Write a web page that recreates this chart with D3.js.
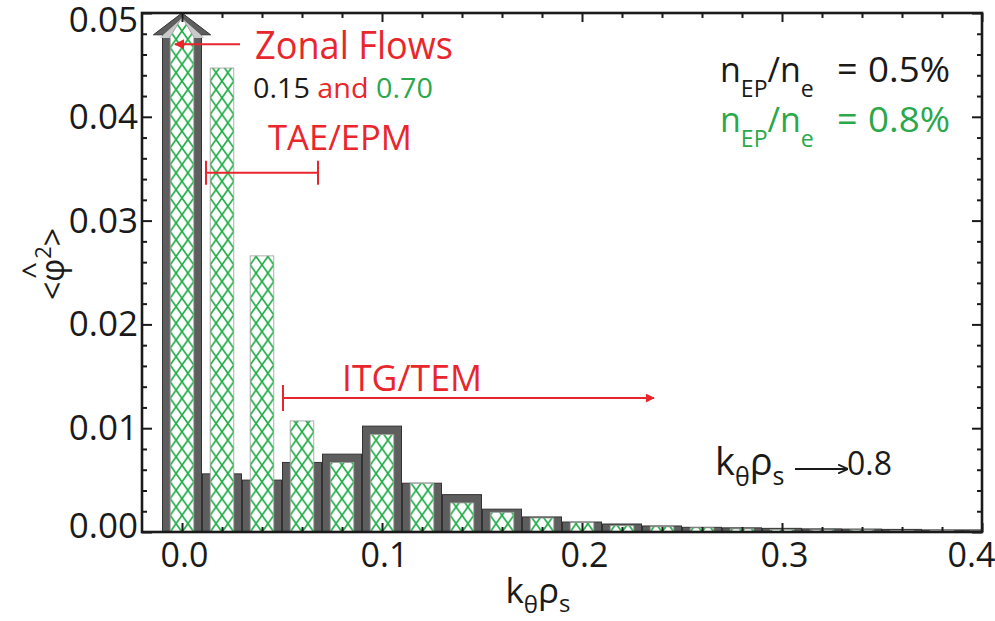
<!DOCTYPE html>
<html><head><meta charset="utf-8">
<script src="https://cdn.jsdelivr.net/npm/d3@7"></script>
<style>
body{margin:0;background:#fff}
svg{display:block}
text{font-family:"Open Sans",sans-serif}
</style>
</head><body>
<svg id="chart" width="995" height="621"></svg>
<script>
// ---- data ----
const kTheta = [0.00,0.02,0.04,0.06,0.08,0.10,0.12,0.14,0.16,0.18,0.20,0.22,0.24,0.26,0.28,0.30,0.32,0.34,0.36,0.38,0.40];
// n_EP/n_e = 0.5% ("0.15"), grey bars; null = off scale (zonal flow, drawn as arrow)
const phi2_015 = [null,0.0056,0.0050,0.0067,0.0075,0.0102,0.0047,0.0036,0.0022,0.00145,0.00096,0.00077,0.00058,0.00045,0.00040,0.00035,0.00030,0.00028,0.00025,0.00020,0.00020];
// n_EP/n_e = 0.8% ("0.70"), green hatched bars
const phi2_070 = [null,0.0447,0.0266,0.0107,0.0067,0.0094,0.0047,0.0028,0.0019,0.00135,0.0009,0.0006,0.0005,0.0004,0.0003,0.00025,0.0002,0.0002,0.00015,0.00015,0.0001];
const xTickValues = [0.0,0.1,0.2,0.3,0.4];
const xTickLabels = ["0.0","0.1","0.2","0.3","0.4"];
const yTickValues = [0.00,0.01,0.02,0.03,0.04,0.05];
const yTickLabels = ["0.00","0.01","0.02","0.03","0.04","0.05"];

// ---- layout ----
const W = 995, H = 621;
const m = {left:142, right:13, top:13, bottom:89};
const RED = "#e8262c", GREEN = "#2aa84a", HATCH = "#22ad48", DARK = "#1a1a1a";
const svg = d3.select("#chart");
const x = d3.scaleLinear().domain([-0.02, 0.40]).range([m.left, W - m.right]);
const y = d3.scaleLinear().domain([0, 0.05]).range([H - m.bottom, m.top]);
const dx = d => x(d) - x(0);
const greyW = 0.0195, greenW = 0.0118;

const defs = svg.append("defs");
defs.append("clipPath").attr("id","plotclip").append("rect")
  .attr("x", x(-0.02)).attr("y", 0).attr("width", x(0.40)-x(-0.02)).attr("height", y(0)+1);

const gBars = svg.append("g").attr("clip-path","url(#plotclip)");

// grey bars
kTheta.forEach((k,i)=>{
  const v = phi2_015[i];
  const xl = x(k - greyW/2), xr = x(k + greyW/2), xc = x(k);
  if (v === null) {
    const hw = dx(0.0143), yb = y(0.0479), yt = y(0.0500);
    const pts = [[xl,y(0)],[xl,yb],[xc-hw,yb],[xc,yt],[xc+hw,yb],[xr,yb],[xr,y(0)]];
    gBars.append("polygon").attr("points", pts.map(p=>p.join(",")).join(" "))
      .attr("fill","#5e5e5e").attr("stroke","#333").attr("stroke-width",1);
    const hw2 = dx(0.0112), yb2 = y(0.0476), yt2 = y(0.0495);
    const pts2 = [[xl+2.5,yb2],[xc-hw2,yb2],[xc,yt2],[xc+hw2,yb2],[xr-2.5,yb2]];
    gBars.append("polygon").attr("points", pts2.map(p=>p.join(",")).join(" "))
      .attr("fill","#c9c9c9").attr("stroke","none");
  } else {
    gBars.append("rect").attr("x", xl).attr("width", xr-xl)
      .attr("y", y(v)).attr("height", y(0)-y(v))
      .attr("fill","#5e5e5e").attr("stroke","#333").attr("stroke-width",1);
  }
});

// green hatched bars
kTheta.forEach((k,i)=>{
  const v = phi2_070[i];
  const xl = x(k - greenW/2), xr = x(k + greenW/2), xc = x(k);
  const bw = xr - xl;
  const pid = "hatch"+i;
  const pat = defs.append("pattern").attr("id",pid).attr("patternUnits","userSpaceOnUse")
    .attr("x", xl).attr("y", y(0)).attr("width", bw/2).attr("height", 16.7);
  pat.append("path").attr("d", `M0,0L${bw/2},16.7M${bw/2},0L0,16.7`)
    .attr("stroke", HATCH).attr("stroke-width",1.7).attr("fill","none");
  if (v === null) {
    const hw = dx(0.0112), yb = y(0.0476), yt = y(0.0496);
    const pts = [[xl,y(0)],[xl,yb],[xc-hw*0.55,yb],[xc,yt],[xc+hw*0.55,yb],[xr,yb],[xr,y(0)]];
    const s = pts.map(p=>p.join(",")).join(" ");
    gBars.append("polygon").attr("points", s).attr("fill","#fff");
    gBars.append("polygon").attr("points", s).attr("fill",`url(#${pid})`)
      .attr("stroke","#9a9a9a").attr("stroke-width",0.8);
  } else {
    gBars.append("rect").attr("x", xl).attr("width", bw).attr("y", y(v)).attr("height", y(0)-y(v))
      .attr("fill","#fff");
    gBars.append("rect").attr("x", xl).attr("width", bw).attr("y", y(v)).attr("height", y(0)-y(v))
      .attr("fill",`url(#${pid})`).attr("stroke","#9a9a9a").attr("stroke-width",0.8);
  }
});

// ---- axes (inward ticks on all sides) ----
const xMinor = d3.range(0, 0.4001, 0.02).filter(v => Math.abs(v*10 - Math.round(v*10)) > 1e-6);
const yMinor = d3.range(0, 0.05001, 0.002).filter(v => Math.abs(v*100 - Math.round(v*100)) > 1e-6);
function styleAxis(g){ g.select(".domain").remove(); g.selectAll("line").attr("stroke", DARK).attr("stroke-width", 2); }

svg.append("g").attr("transform",`translate(0,${y(0)})`)
  .call(d3.axisBottom(x).tickValues(xTickValues).tickSize(-9).tickPadding(11).tickFormat((d,i)=>xTickLabels[i]))
  .call(styleAxis)
  .call(g=>g.selectAll("text").attr("font-size",34).attr("fill",DARK).attr("font-family","Open Sans")
    .attr("x",(d,i)=> i===xTickValues.length-1 ? -11 : 2));
svg.append("g").attr("transform",`translate(0,${y(0)})`)
  .call(d3.axisBottom(x).tickValues(xMinor).tickSize(-5).tickFormat(""))
  .call(styleAxis);
svg.append("g").attr("transform",`translate(0,${y(0.05)})`)
  .call(d3.axisTop(x).tickValues(xTickValues).tickSize(-9).tickFormat(""))
  .call(styleAxis);
svg.append("g").attr("transform",`translate(0,${y(0.05)})`)
  .call(d3.axisTop(x).tickValues(xMinor).tickSize(-5).tickFormat(""))
  .call(styleAxis);

svg.append("g").attr("transform",`translate(${x(-0.02)},0)`)
  .call(d3.axisLeft(y).tickValues(yTickValues).tickSize(-10).tickPadding(4).tickFormat((d,i)=>yTickLabels[i]))
  .call(styleAxis)
  .call(g=>g.selectAll("text").attr("font-size",35).attr("fill",DARK).attr("font-family","Open Sans")
    .attr("dy",(d,i)=> i===0 ? "0.15em" : (i===yTickValues.length-1 ? "0.52em" : "0.33em")));
svg.append("g").attr("transform",`translate(${x(-0.02)},0)`)
  .call(d3.axisLeft(y).tickValues(yMinor).tickSize(-5).tickFormat(""))
  .call(styleAxis);
svg.append("g").attr("transform",`translate(${x(0.40)},0)`)
  .call(d3.axisRight(y).tickValues(yTickValues).tickSize(-10).tickFormat(""))
  .call(styleAxis);
svg.append("g").attr("transform",`translate(${x(0.40)},0)`)
  .call(d3.axisRight(y).tickValues(yMinor).tickSize(-5).tickFormat(""))
  .call(styleAxis);

// frame
svg.append("rect").attr("x", x(-0.02)).attr("y", y(0.05)).attr("width", x(0.40)-x(-0.02)).attr("height", y(0)-y(0.05))
  .attr("fill","none").attr("stroke", DARK).attr("stroke-width", 2.6);

// ---- axis titles ----
const xt = svg.append("text").attr("x", x(0.178)).attr("y", 603).attr("text-anchor","middle").attr("fill",DARK).attr("font-size",35);
xt.append("tspan").text("k");
xt.append("tspan").text("θ").attr("font-size",24).attr("dy",10);
xt.append("tspan").text("ρ").attr("dy",-10);
xt.append("tspan").text("s").attr("font-size",24).attr("dy",9);

const yl = svg.append("g").attr("transform","translate(53,264) rotate(-90)");
const ylt = yl.append("text").attr("x",0).attr("y",11).attr("text-anchor","middle").attr("fill",DARK).attr("font-size",32);
ylt.append("tspan").text("<");
ylt.append("tspan").text("φ");
ylt.append("tspan").text("2").attr("font-size",22).attr("dy",-13);
ylt.append("tspan").text(">").attr("dy",13);
{
  const node = ylt.node();
  const s = node.getStartPositionOfChar(1).x, e = node.getEndPositionOfChar(1).x;
  yl.append("text").attr("x",(s+e)/2).attr("y",-9).attr("text-anchor","middle").attr("fill",DARK).attr("font-size",30).text("^");
}

// ---- annotations ----
svg.append("defs").html(`
<marker id="arrRed" viewBox="0 0 10 10" refX="9" refY="5" markerWidth="12" markerHeight="10" markerUnits="userSpaceOnUse" orient="auto"><path d="M0,0L10,5L0,10z" fill="${RED}"/></marker>
<marker id="arrRed2" viewBox="0 0 10 10" refX="9" refY="5" markerWidth="15" markerHeight="9" markerUnits="userSpaceOnUse" orient="auto"><path d="M0,0L10,5L0,10z" fill="${RED}"/></marker>
<marker id="arrBlk" viewBox="0 0 10 10" refX="9" refY="5" markerWidth="10" markerHeight="10" markerUnits="userSpaceOnUse" orient="auto"><path d="M0,0.5L10,5L0,9.5" fill="none" stroke="${DARK}" stroke-width="1.8"/></marker>`);

svg.append("text").attr("x", x(0.0365)).attr("y", y(0.0456)).attr("fill",RED).attr("font-size",38)
  .attr("textLength",198).attr("lengthAdjust","spacingAndGlyphs").text("Zonal Flows");
svg.append("line").attr("x1", x(0.029)).attr("x2", x(-0.0035)).attr("y1", y(0.047)).attr("y2", y(0.047))
  .attr("stroke",RED).attr("stroke-width",2).attr("marker-end","url(#arrRed)");

const t15 = svg.append("text").attr("x", x(0.0355)).attr("y", y(0.0418)).attr("font-size",28)
  .attr("textLength",180).attr("lengthAdjust","spacingAndGlyphs");
t15.append("tspan").text("0.15 ").attr("fill",DARK);
t15.append("tspan").text("and ").attr("fill",RED);
t15.append("tspan").text("0.70").attr("fill",GREEN);

svg.append("text").attr("x", x(0.043)).attr("y", y(0.0368)).attr("fill",RED).attr("font-size",35)
  .attr("textLength",144).attr("lengthAdjust","spacingAndGlyphs").text("TAE/EPM");
{
  const yy = y(0.0346), a = x(0.012), b = x(0.068);
  svg.append("path").attr("d",`M${a},${yy-12}V${yy+12}M${a},${yy}H${b}M${b},${yy-12}V${yy+12}`)
    .attr("stroke",RED).attr("stroke-width",2).attr("fill","none");
}

svg.append("text").attr("x", x(0.08)).attr("y", y(0.01358)).attr("fill",RED).attr("font-size",36)
  .attr("textLength",140).attr("lengthAdjust","spacingAndGlyphs").text("ITG/TEM");
{
  const yy = y(0.0129), a = x(0.0505), b = x(0.236);
  svg.append("path").attr("d",`M${a},${yy-13}V${yy+13}`).attr("stroke",RED).attr("stroke-width",2);
  svg.append("line").attr("x1",a).attr("x2",b).attr("y1",yy).attr("y2",yy)
    .attr("stroke",RED).attr("stroke-width",2).attr("marker-end","url(#arrRed2)");
}

// density labels
function nLine(yv, val, color){
  const yb = y(yv);
  const t = svg.append("text").attr("x", x(0.269)).attr("y", yb).attr("fill", color).attr("font-size",34);
  t.append("tspan").text("n");
  t.append("tspan").text("EP").attr("font-size",23).attr("dy",15);
  t.append("tspan").text("/n").attr("dy",-15);
  t.append("tspan").text("e").attr("font-size",23).attr("dy",15);
  svg.append("text").attr("x", x(0.3275)).attr("y", yb).attr("fill", color).attr("font-size",36).text("=");
  svg.append("text").attr("x", x(0.343)).attr("y", yb).attr("fill", color).attr("font-size",34)
    .attr("textLength",82).attr("lengthAdjust","spacingAndGlyphs").text(val);
}
nLine(0.04335, "0.5%", DARK);
nLine(0.03854, "0.8%", GREEN);

{
  const yb = y(0.00549);
  const t = svg.append("text").attr("x", x(0.2665)).attr("y", yb).attr("fill",DARK).attr("font-size",38);
  t.append("tspan").text("k");
  t.append("tspan").text("θ").attr("font-size",25).attr("dy",11);
  t.append("tspan").text("ρ").attr("dy",-11);
  t.append("tspan").text("s").attr("font-size",25).attr("dy",10);
  const ya = yb - 6;
  svg.append("line").attr("x1", x(0.3065)).attr("x2", x(0.3325)).attr("y1", ya).attr("y2", ya)
    .attr("stroke",DARK).attr("stroke-width",2).attr("marker-end","url(#arrBlk)");
  svg.append("text").attr("x", x(0.3325)).attr("y", yb).attr("fill",DARK).attr("font-size",32).text("0.8");
}
</script>
</body></html>
